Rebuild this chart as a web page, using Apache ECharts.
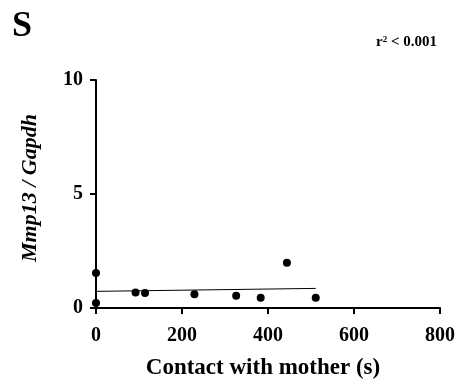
<!DOCTYPE html>
<html>
<head>
<meta charset="utf-8">
<script src="https://cdn.jsdelivr.net/npm/echarts@6/dist/echarts.min.js"></script>
<style>
  html, body { margin: 0; padding: 0; background: #fff; }
  #chart { width: 459px; height: 385px; }
</style>
</head>
<body>
<div id="chart"></div>
<script>
// Contact time with mother (s) vs Mmp13/Gapdh expression
const contactSec = [0, 0, 92, 114, 229, 326, 383, 444, 511];
const mmp13Ratio = [1.53, 0.22, 0.68, 0.66, 0.60, 0.54, 0.45, 1.98, 0.45];
// Linear fit endpoints
const fitX = [0, 511];
const fitY = [0.73, 0.86];
const xTicks = [0, 200, 400, 600, 800];
const yTicks = [0, 5, 10];

const serif = '"Liberation Serif", "Times New Roman", serif';

const chart = echarts.init(document.getElementById('chart'));
chart.setOption({
  animation: false,
  backgroundColor: '#fff',
  grid: { left: 96, right: 19, top: 80, bottom: 77 },
  title: [
    { text: 'S', left: 7, top: 4, padding: 5,
      textStyle: { fontFamily: serif, fontWeight: 'bold', fontSize: 36, color: '#000' } },
    { text: '{r|r}{sup|2}{r| < 0.001}', right: 17, top: 30,
      textStyle: { rich: {
        r: { fontFamily: serif, fontWeight: 'bold', fontSize: 15, color: '#000' },
        sup: { fontFamily: serif, fontWeight: 'bold', fontSize: 9, color: '#000', verticalAlign: 'top', padding: [0, 0, 6, 0] }
      } } }
  ],
  xAxis: {
    type: 'value', min: 0, max: 800, interval: 200,
    name: 'Contact with mother (s)', nameLocation: 'middle', nameGap: 49,
    nameTextStyle: { fontFamily: serif, fontWeight: 'bold', fontSize: 23, color: '#000', padding: [0, 10, 0, 0] },
    axisLine: { show: true, lineStyle: { color: '#000', width: 2 } },
    axisTick: { show: true, length: 6, lineStyle: { color: '#000', width: 2 } },
    axisLabel: { fontFamily: serif, fontWeight: 'bold', fontSize: 20, color: '#000', margin: 18,
      formatter: v => xTicks.includes(v) ? String(v) : '' },
    splitLine: { show: false }
  },
  yAxis: {
    type: 'value', min: 0, max: 10, interval: 5,
    name: 'Mmp13 / Gapdh', nameLocation: 'middle', nameGap: 55,
    nameTextStyle: { fontFamily: serif, fontWeight: 'bold', fontStyle: 'italic', fontSize: 22, color: '#000', padding: [0, 0, 0, 12] },
    axisLine: { show: true, lineStyle: { color: '#000', width: 2 } },
    axisTick: { show: true, length: 6, lineStyle: { color: '#000', width: 2 } },
    axisLabel: { fontFamily: serif, fontWeight: 'bold', fontSize: 20, color: '#000', margin: 13,
      formatter: v => yTicks.includes(v) ? String(v) : '' },
    splitLine: { show: false }
  },
  series: [
    {
      type: 'line',
      data: fitX.map((x, i) => [x, fitY[i]]),
      symbol: 'none',
      lineStyle: { color: '#000', width: 1 },
      z: 2
    },
    {
      type: 'scatter',
      data: contactSec.map((x, i) => [x, mmp13Ratio[i]]),
      symbol: 'circle', symbolSize: 8,
      itemStyle: { color: '#000', opacity: 1 },
      z: 3
    }
  ]
});
</script>
</body>
</html>
